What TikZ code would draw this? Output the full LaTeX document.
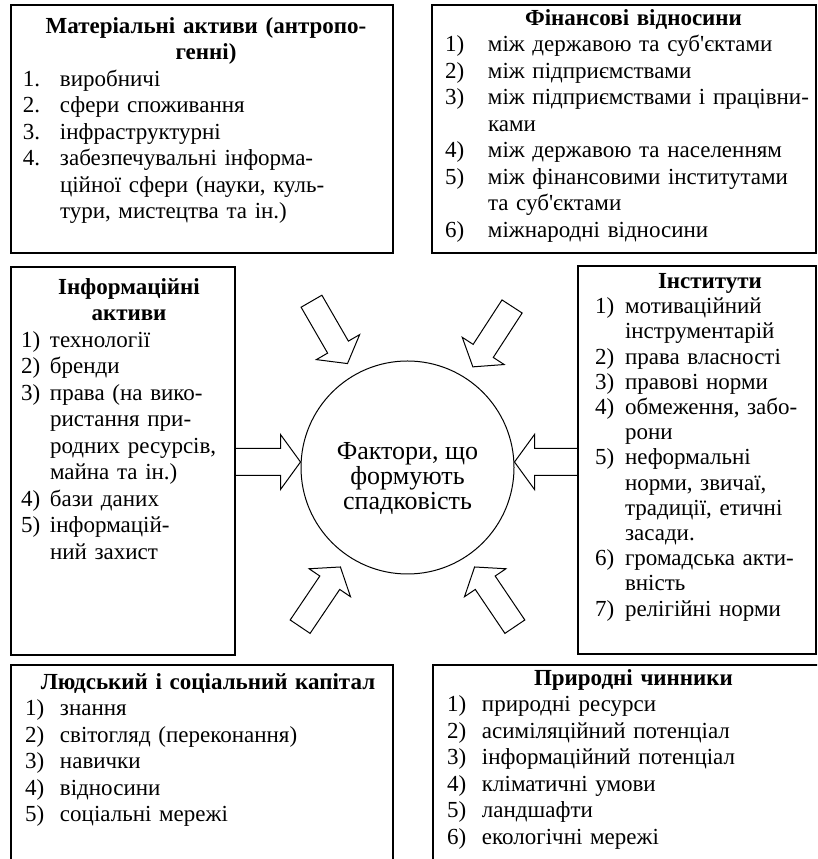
\documentclass[tikz,border=0pt]{standalone}
\usepackage{fontspec}
\setmainfont{Liberation Serif}
\usetikzlibrary{positioning,calc}
\tikzstyle{frame} = [draw,line width=1.6pt,rectangle,inner sep=0,outer sep=0,anchor=north west]
\tikzstyle{txt} = [inner sep=0,outer sep=0,anchor=north west,font=\fontsize{23}{26.5}\selectfont,execute at begin node=\raggedright]
\tikzstyle{arr} = [draw,line width=1pt,line join=miter]
\newlength{\itmind}
\newcommand{\itm}[2]{\noindent\hangindent=\itmind\hangafter=1\makebox[\itmind][l]{#1}{\let\\\newline #2}\par}
\newcommand{\ttl}[1]{{\centering\bfseries #1\par}}
% block arrow: tail, tip, shaft half width, head half width, head length
\newcommand{\blockarr}[5]{%
  \coordinate (ab) at ($(#2)!#5!(#1)$);
  \draw[arr] ($(#1)!#3!90:(#2)$) -- ($(ab)!#3!90:(#2)$) -- ($(ab)!#4!90:(#2)$) -- (#2)
    -- ($(ab)!#4!-90:(#2)$) -- ($(ab)!#3!-90:(#2)$) -- ($(#1)!#3!-90:(#2)$) -- cycle;}
\begin{document}
\begin{tikzpicture}[x=1pt,y=1pt]
  \path[use as bounding box,clip] (0,0) rectangle (817,859);
  % boxes
  \node[frame,minimum width=382pt,minimum height=248pt] (mat) at (11,854) {};
  \node[frame,minimum width=384pt,minimum height=248pt] (fin) at (432,854) {};
  \node[frame,minimum width=224pt,minimum height=388pt,below=14pt of mat.south west,anchor=north west] (inf) {};
  \node[frame,minimum width=238pt,minimum height=388pt] (inst) at (578,593) {};
  \node[frame,minimum width=382pt,minimum height=230pt,below=10pt of inf.south west,anchor=north west] (hum) {};
  \node[frame,minimum width=400pt,minimum height=230pt] (nat) at (433,194) {};
  \node[draw,circle,line width=1pt,minimum size=213pt,inner sep=0] (circ) at (407.5,391.5) {};
  % texts
  \node[txt,text width=366pt] (matT) at ($(mat.north west)+(12,-12.5)$) {\setlength{\itmind}{37pt}%
    \ttl{Матеріальні активи (антропо-\\генні)}
    \itm{1.}{виробничі}
    \itm{2.}{сфери споживання}
    \itm{3.}{інфраструктурні}
    \itm{4.}{забезпечувальні інформа-\\ційної сфери (науки, куль-\\тури, мистецтва та ін.)}};
  \node[txt,text width=377pt] (finT) at ($(fin.north west)+(13,-4.5)$) {\setlength{\itmind}{43pt}%
    \ttl{Фінансові відносини}
    \itm{1)}{між державою та суб\textquotesingle єктами}
    \itm{2)}{між підприємствами}
    \itm{3)}{між підприємствами і працівни-\\ками}
    \itm{4)}{між державою та населенням}
    \itm{5)}{між фінансовими інститутами\\та суб\textquotesingle єктами}
    \itm{6)}{міжнародні відносини}};
  \node[txt,text width=216pt] (infT) at ($(inf.north west)+(10,-11.5)$) {\setlength{\itmind}{29pt}%
    \ttl{Інформаційні\\активи}
    \itm{1)}{технології}
    \itm{2)}{бренди}
    \itm{3)}{права (на вико-\\ристання при-\\родних ресурсів,\\майна та ін.)}
    \itm{4)}{бази даних}
    \itm{5)}{інформацій-\\ний захист}};
  \node[txt,text width=230pt,font=\fontsize{23}{25.2}\selectfont] (instT) at ($(inst.north west)+(17,-7.5)$) {\setlength{\itmind}{30pt}%
    \ttl{Інститути}
    \itm{1)}{мотиваційний\\інструментарій}
    \itm{2)}{права власності}
    \itm{3)}{правові норми}
    \itm{4)}{обмеження, забо-\\рони}
    \itm{5)}{неформальні\\норми, звичаї,\\традиції, етичні\\засади.}
    \itm{6)}{громадська акти-\\вність}
    \itm{7)}{релігійні норми}};
  \node[txt,text width=366pt] (humT) at ($(hum.north west)+(14,-8.5)$) {\setlength{\itmind}{35pt}%
    \ttl{Людський і соціальний капітал}
    \itm{1)}{знання}
    \itm{2)}{світогляд (переконання)}
    \itm{3)}{навички}
    \itm{4)}{відносини}
    \itm{5)}{соціальні мережі}};
  \node[txt,text width=373pt] (natT) at ($(nat.north west)+(14,-4.5)$) {\setlength{\itmind}{35pt}%
    \ttl{Природні чинники}
    \itm{1)}{природні ресурси}
    \itm{2)}{асиміляційний потенціал}
    \itm{3)}{інформаційний потенціал}
    \itm{4)}{кліматичні умови}
    \itm{5)}{ландшафти}
    \itm{6)}{екологічні мережі}};
  \node[align=center,inner sep=0,font=\fontsize{26}{25}\selectfont] (circT) at ($(circ.center)+(0,-11)$) {Фактори, що\\формують\\спадковість};
  % arrows
  \coordinate (lvl) at (0,397);
  \blockarr{inf.east |- lvl}{circ.west |- lvl}{13.5pt}{27.5pt}{20pt}
  \blockarr{inst.west |- lvl}{circ.east |- lvl}{13.5pt}{27.5pt}{20pt}
  \foreach \a/\n in {120/1,57/2,236/3,304/4} {
    \coordinate (d\n) at ($(circ.center)+(\a:192)$);
    \coordinate (e\n) at ($(circ.center)+(\a:120)$);
    \blockarr{d\n}{e\n}{12pt}{25pt}{19pt}
  }
\end{tikzpicture}
\end{document}
